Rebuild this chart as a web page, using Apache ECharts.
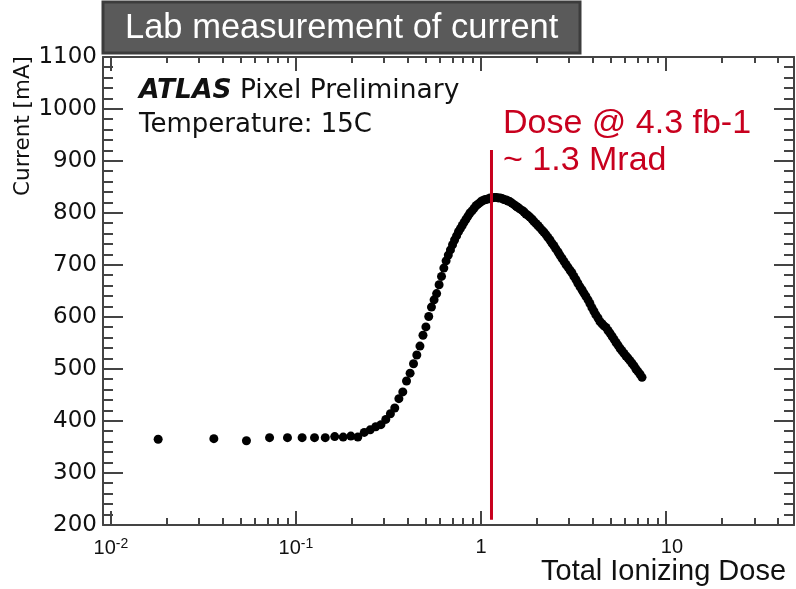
<!DOCTYPE html>
<html><head><meta charset="utf-8">
<script src="https://cdn.jsdelivr.net/npm/echarts@6/dist/echarts.min.js"></script>
<style>html,body{margin:0;padding:0;background:#fff}#c{width:796px;height:589px}</style>
</head><body><div id="c"></div>
<script>
// Total ionizing dose (Mrad) and measured current (mA)
const doseLow = [0.018,0.036,0.054,0.072,0.090,0.108,0.126,0.144,0.162,0.180,0.198,0.216,
  0.234,0.252,0.270,0.288,0.306,0.324,0.342,0.360,0.378,0.396,0.414,0.432,0.450,0.468,
  0.486,0.504,0.522,0.540,0.558,0.576,0.594,0.612,0.630,0.648,0.666,0.684,0.702,0.720,
  0.738,0.756,0.774,0.792,0.810];
const currentLow = [365,366,362,368,368,368,368,368,370,369,371,369,
  378,383,389,393,403,414,425,443,456,477,492,510,527,544,
  565,581,601,619,633,645,662,678,694,708,719,729,739,748,
  756,764,770,776,782];
const doseHigh = [0.830,0.851,0.872,0.894,0.917,0.940,0.963,0.988,1.01,1.04,1.06,1.09,1.12,1.15,
  1.18,1.21,1.24,1.27,1.30,1.33,1.37,1.40,1.43,1.47,1.51,1.55,1.58,1.62,1.67,1.71,1.75,1.80,
  1.84,1.89,1.93,1.98,2.03,2.08,2.14,2.19,2.25,2.30,2.36,2.42,2.48,2.54,2.61,2.67,2.74,2.81,
  2.88,2.95,3.03,3.10,3.18,3.26,3.34,3.43,3.52,3.60,3.69,3.79,3.88,3.98,4.08,4.18,4.29,4.40,
  4.51,4.62,4.74,4.86,4.98,5.11,5.24,5.37,5.50,5.64,5.78,5.93,6.08,6.23,6.39,6.55,6.72,6.88,
  7.06,7.24,7.42];
const currentHigh = [788,794,800,804,809,814,817,820,823,825,826,827,829,829,
  830,830,829,829,828,826,825,823,822,819,816,813,811,808,805,802,798,795,
  792,788,784,780,776,772,767,763,758,753,748,742,737,731,725,719,713,707,
  701,696,690,685,678,672,665,658,652,646,640,633,626,618,611,604,598,591,
  587,583,580,574,569,563,557,551,546,540,535,530,525,521,516,511,506,500,
  495,490,484];
// Red marker: dose at 4.3 fb-1
const markerDose = [1.14, 1.14];
const markerCurrent = [210, 921];
// Axis ticks
const xTickValues = [0.01, 0.1, 1, 10];
const xTickLabels = ['{b|10}{sup|-2}', '{b|10}{sup|-1}', '{b|1}', '{bp|10}'];
const yMin = 200, yMax = 1100, yStep = 100, yMinorStep = 20;

const points = [];
doseLow.forEach((d, i) => points.push([d, currentLow[i]]));
doseHigh.forEach((d, i) => points.push([d, currentHigh[i]]));
const markerLine = markerDose.map((d, i) => [d, markerCurrent[i]]);

function xFmt(v) {
  for (let i = 0; i < xTickValues.length; i++) {
    if (Math.abs(v / xTickValues[i] - 1) < 1e-6) return xTickLabels[i];
  }
  return '';
}

const axisCol = '#444444';
const xMin = 0.00906, xMax = 49.2;

const baseX = {
  type: 'log', logBase: 10, min: xMin, max: xMax,
  splitLine: {show: false}, minorSplitLine: {show: false},
  axisLine: {show: true, lineStyle: {color: axisCol, width: 2}},
  minorTick: {show: true, splitNumber: 9, length: 7, lineStyle: {color: axisCol, width: 2}},
  axisTick: {show: true, inside: true, length: 14, lineStyle: {color: axisCol, width: 2}}
};
const baseY = {
  type: 'value', min: yMin, max: yMax, interval: yStep,
  splitLine: {show: false},
  axisLine: {show: true, onZero: false, lineStyle: {color: axisCol, width: 2}},
  axisTick: {show: false},
  minorTick: {show: false}
};

const baseGraphics = [
  {type: 'rect', z: 100, shape: {x: 103, y: 2, width: 477, height: 51},
   style: {fill: '#5a5a5a', stroke: '#3c3c3c', lineWidth: 3}},
  {type: 'text', z: 101, x: 125, y: 28,
   style: {text: 'Lab measurement of current', fill: '#ffffff', fontSize: 34.5, fontFamily: 'Liberation Sans', verticalAlign: 'middle'}},
  {type: 'text', z: 101, x: 139, y: 91,
   style: {text: '{b|ATLAS} Pixel Preliminary', fill: '#111', fontSize: 26.5, fontFamily: 'DejaVu Sans', verticalAlign: 'middle',
     rich: {b: {fontWeight: 'bold', fontStyle: 'italic', fontSize: 26.5, fontFamily: 'DejaVu Sans', fill: '#111'}}}},
  {type: 'text', z: 101, x: 139, y: 125,
   style: {text: 'Temperature: 15C', fill: '#111', fontSize: 26, fontFamily: 'DejaVu Sans', verticalAlign: 'middle'}},
  {type: 'text', z: 101, x: 23, y: 126, rotation: Math.PI / 2,
   style: {text: 'Current [mA]', fill: '#111', fontSize: 21.5, fontFamily: 'DejaVu Sans', align: 'center', verticalAlign: 'middle'}},
  {type: 'text', z: 101, x: 503, y: 124,
   style: {text: 'Dose @ 4.3 fb-1', fill: '#c8001e', fontSize: 34, fontFamily: 'Liberation Sans', verticalAlign: 'middle'}},
  {type: 'text', z: 101, x: 503, y: 161,
   style: {text: '~ 1.3 Mrad', fill: '#c8001e', fontSize: 34, fontFamily: 'Liberation Sans', verticalAlign: 'middle'}},
  {type: 'rect', z: 100, shape: {x: 0, y: 555, width: 796, height: 34}, style: {fill: '#ffffff'}},
  {type: 'text', z: 101, x: 541, y: 572,
   style: {text: 'Total Ionizing Dose', fill: '#111', fontSize: 29, fontFamily: 'Liberation Sans', verticalAlign: 'middle'}}
];

const chart = echarts.init(document.getElementById('c'));
chart.setOption({
  animation: false,
  backgroundColor: '#fff',
  grid: {left: 103, right: 2, top: 57, bottom: 64, containLabel: false},
  xAxis: [
    Object.assign({}, baseX, {
      position: 'bottom',
      axisLabel: {
        show: true, margin: 12, color: '#111', fontSize: 20, fontFamily: 'Liberation Sans',
        showMinLabel: false, showMaxLabel: false,
        formatter: xFmt,
        rich: {
          b: {fontSize: 20, fontFamily: 'Liberation Sans', color: '#111'},
          bp: {fontSize: 20, fontFamily: 'Liberation Sans', color: '#111', padding: [0, 0, 0, 12]},
          sup: {fontSize: 14, fontFamily: 'Liberation Sans', color: '#111', verticalAlign: 'top', padding: [0, 0, 8, 0]}
        }
      }
    }),
    Object.assign({}, baseX, {
      position: 'top', axisLabel: {show: false},
      minorTick: {show: true, splitNumber: 9, length: 6, lineStyle: {color: axisCol, width: 2}}
    })
  ],
  yAxis: [
    Object.assign({}, baseY, {
      position: 'left',
      axisLabel: {show: true, margin: 6, color: '#111', fontSize: 23, fontFamily: 'DejaVu Sans',
        formatter: function (v) { return String(v); }}
    }),
    Object.assign({}, baseY, {position: 'right', axisLabel: {show: false}})
  ],
  series: [
    {
      type: 'scatter', xAxisIndex: 0, yAxisIndex: 0, data: points,
      symbol: 'circle', symbolSize: 9, itemStyle: {color: '#000', opacity: 1}, silent: true, z: 3
    },
    {
      type: 'line', xAxisIndex: 0, yAxisIndex: 0, data: markerLine,
      symbol: 'none', lineStyle: {color: '#c8001e', width: 3}, silent: true, z: 4
    }
  ]
});

// y tick marks (major + minor), inside on both the left and right frame, placed with the axis scale
const tickEls = [];
const xl = chart.convertToPixel({xAxisIndex: 0}, xMin);
const xr = chart.convertToPixel({xAxisIndex: 0}, xMax);
for (let v = yMin; v <= yMax + 1e-9; v += yMinorStep) {
  const py = Math.round(chart.convertToPixel({yAxisIndex: 0}, v));
  const len = (Math.round(v) % yStep === 0) ? 20 : 10;
  tickEls.push({type: 'rect', z: 150, silent: true, shape: {x: xl, y: py - 1, width: len, height: 2},
    style: {fill: axisCol}});
  tickEls.push({type: 'rect', z: 150, silent: true, shape: {x: xr - len, y: py - 1, width: len, height: 2},
    style: {fill: axisCol}});
}
chart.setOption({graphic: baseGraphics.concat(tickEls)});
</script></body></html>
